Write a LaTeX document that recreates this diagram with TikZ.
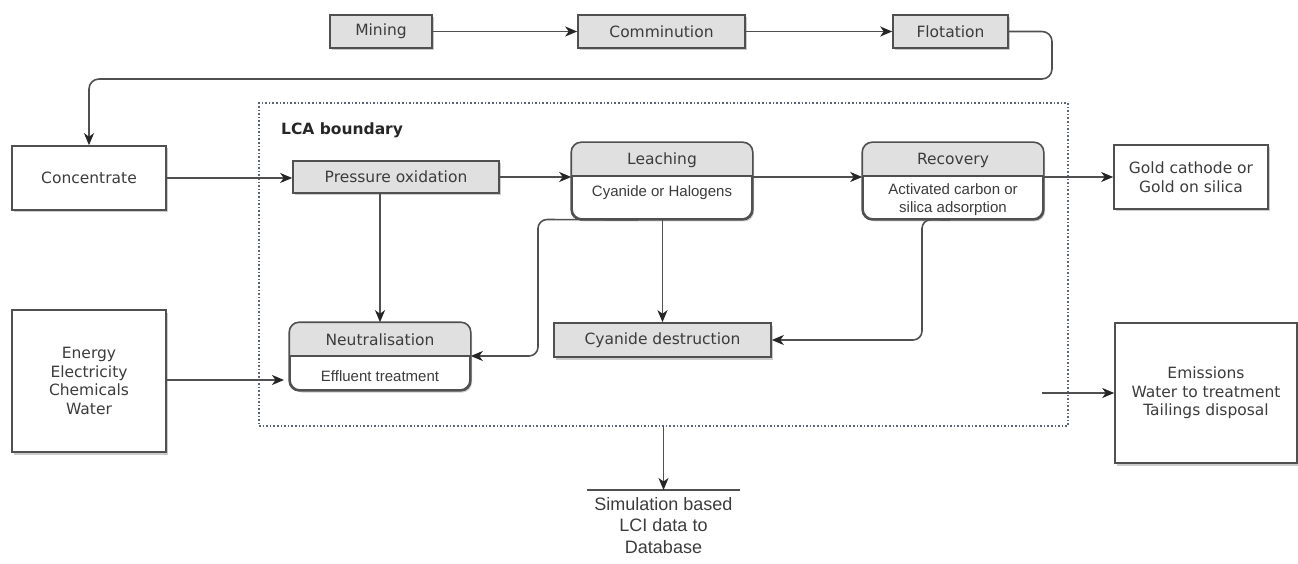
\documentclass[tikz,border=0pt]{standalone}
\usepackage{fontspec}
\setmainfont{DejaVu Sans}
\newfontfamily\arialfont{Liberation Sans}
\usetikzlibrary{arrows.meta,shadows}

\definecolor{ink}{HTML}{3C3C3C}
\definecolor{edgecol}{HTML}{505050}
\definecolor{hdr}{HTML}{E0E0E0}
\definecolor{bound}{HTML}{5C6478}

\tikzset{
  base/.style={draw=edgecol, line width=1.6pt, inner sep=0pt, text=ink,
    font=\fontsize{15.5}{18.5}\selectfont, align=center},
  softshadow/.style={drop shadow={shadow xshift=2pt, shadow yshift=-2.5pt,
    opacity=0.2, fill=black}},
  graybox/.style={base, fill=hdr, softshadow},
  whitebox/.style={base, fill=white, softshadow},
  roundbox/.style={base, fill=white, rounded corners=10pt, softshadow,
    minimum width=180pt},
  title/.style={text=ink, font=\fontsize{15.5}{18.5}\selectfont, inner sep=0pt},
  sublabel/.style={text=ink, font=\arialfont\fontsize{15}{18}\selectfont,
    align=center, inner sep=0pt},
  divider/.style={draw=edgecol, line width=1.6pt},
  arr/.style={draw=edgecol, line width=1.6pt,
    -{Stealth[length=12pt,width=10pt,inset=3.5pt,color=black!85]}},
  link/.style={draw=edgecol, line width=1.6pt},
}

\begin{document}
\begin{tikzpicture}[x=1pt,y=-1pt]
\useasboundingbox (0,0) rectangle (1298,564);

% ---- upstream chain ----
\node[graybox, minimum width=102pt, minimum height=33pt] (mining) at (381,31.5) {Mining};
\node[graybox, minimum width=167pt, minimum height=33pt] (comm) at (661.5,31.5) {Comminution};
\node[graybox, minimum width=115pt, minimum height=33pt] (flot) at (950.5,31.5) {Flotation};

% ---- inputs ----
\node[whitebox, minimum width=154pt, minimum height=64pt] (conc) at (89,178) {Concentrate};
\node[whitebox, minimum width=154pt, minimum height=142pt] (energy) at (89,381)
  {Energy\\Electricity\\Chemicals\\Water};

% ---- LCA boundary ----
\node[draw=bound, line width=1.4pt, dash pattern=on 1.6pt off 2pt,
  minimum width=809pt, minimum height=323pt, inner sep=0pt] (lca) at (663.5,264.5) {};
\node[anchor=west, inner sep=0pt, text=black!85,
  font=\bfseries\fontsize{15.5}{18.5}\selectfont] (lcalabel) at (281,130) {LCA boundary};

% ---- process steps ----
\node[graybox, minimum width=206pt, minimum height=32pt] (po) at (396,177) {Pressure oxidation};
\node[graybox, minimum width=217pt, minimum height=34pt] (cyd) at (662.5,340) {Cyanide destruction};

% Leaching (header + body)
\node[roundbox, minimum height=76pt] (leach) at (662,181) {};
\begin{scope}
  \clip[rounded corners=10pt] (leach.south west) rectangle (leach.north east);
  \fill[hdr] (leach.north west) rectangle (leach.east |- 0,176);
\end{scope}
\draw[divider] (leach.west |- 0,176) -- (leach.east |- 0,176);
\draw[divider, rounded corners=10pt] (leach.south west) rectangle (leach.north east);
\node[title] (leachT) at (662,160) {Leaching};
\node[sublabel] (leachS) at (662,193) {Cyanide or Halogens};

% Recovery (header + body)
\node[roundbox, minimum height=76pt] (rec) at (953,181) {};
\begin{scope}
  \clip[rounded corners=10pt] (rec.south west) rectangle (rec.north east);
  \fill[hdr] (rec.north west) rectangle (rec.east |- 0,176);
\end{scope}
\draw[divider] (rec.west |- 0,176) -- (rec.east |- 0,176);
\draw[divider, rounded corners=10pt] (rec.south west) rectangle (rec.north east);
\node[title] (recT) at (953,160) {Recovery};
\node[sublabel] (recS) at (953,200) {Activated carbon or\\silica adsorption};

% Neutralisation (header + body)
\node[roundbox, minimum height=67pt] (neut) at (380,356.5) {};
\begin{scope}
  \clip[rounded corners=10pt] (neut.south west) rectangle (neut.north east);
  \fill[hdr] (neut.north west) rectangle (neut.east |- 0,356);
\end{scope}
\draw[divider] (neut.west |- 0,356) -- (neut.east |- 0,356);
\draw[divider, rounded corners=10pt] (neut.south west) rectangle (neut.north east);
\node[title] (neutT) at (380,340) {Neutralisation};
\node[sublabel] (neutS) at (380,376) {Effluent treatment};

% ---- outputs ----
\node[whitebox, minimum width=154pt, minimum height=64pt] (gold) at (1191,177)
  {Gold cathode or\\Gold on silica};
\node[whitebox, minimum width=182pt, minimum height=140pt] (emis) at (1206,393)
  {Emissions\\Water to treatment\\Tailings disposal};

% database sink
\coordinate (dbl) at (587,490);
\coordinate (dbr) at (740,490);
\coordinate (dbmid) at (663.5,490);
\draw[link] (dbl) -- (dbr);
\node[sublabel, font=\arialfont\fontsize{18}{21.5}\selectfont, anchor=north] (db)
  at (663.5,497) {Simulation based\\LCI data to\\Database};

% ---- connectors ----
\draw[arr] (mining) -- (comm);
\draw[arr] (comm) -- (flot);
\draw[arr, rounded corners=10pt] (flot.east) -- (1052,31.5) -- (1052,79)
  -- (conc.north |- 0,79) -- (conc.north);
\draw[arr] (conc.east) -- (po.west |- conc.east);
\draw[arr] (po.east) -- (leach.west |- po.east);
\draw[arr] (leach.east |- po.east) -- (rec.west |- po.east);
\draw[arr] (rec.east |- gold.west) -- (gold.west);
\draw[arr] (po.south -| neut.north) -- (neut.north);
\draw[arr] (leach.south -| cyd.north) -- (cyd.north);
\draw[arr, rounded corners=9pt] ([xshift=-24pt]leach.south) -- (538,219.5)
  -- (538,356) -- (neut.east |- 0,356);
\draw[arr, rounded corners=9pt] ([xshift=-3pt]rec.south) -- (922,219.5)
  -- (922,340) -- (cyd.east);
\coordinate (ein) at (284,380);
\draw[arr] (energy.east |- ein) -- (ein);
\coordinate (eout) at (1042,393);
\draw[arr] (eout) -- (emis.west |- eout);
\draw[arr] (lca.south) -- (dbmid);

\end{tikzpicture}
\end{document}
